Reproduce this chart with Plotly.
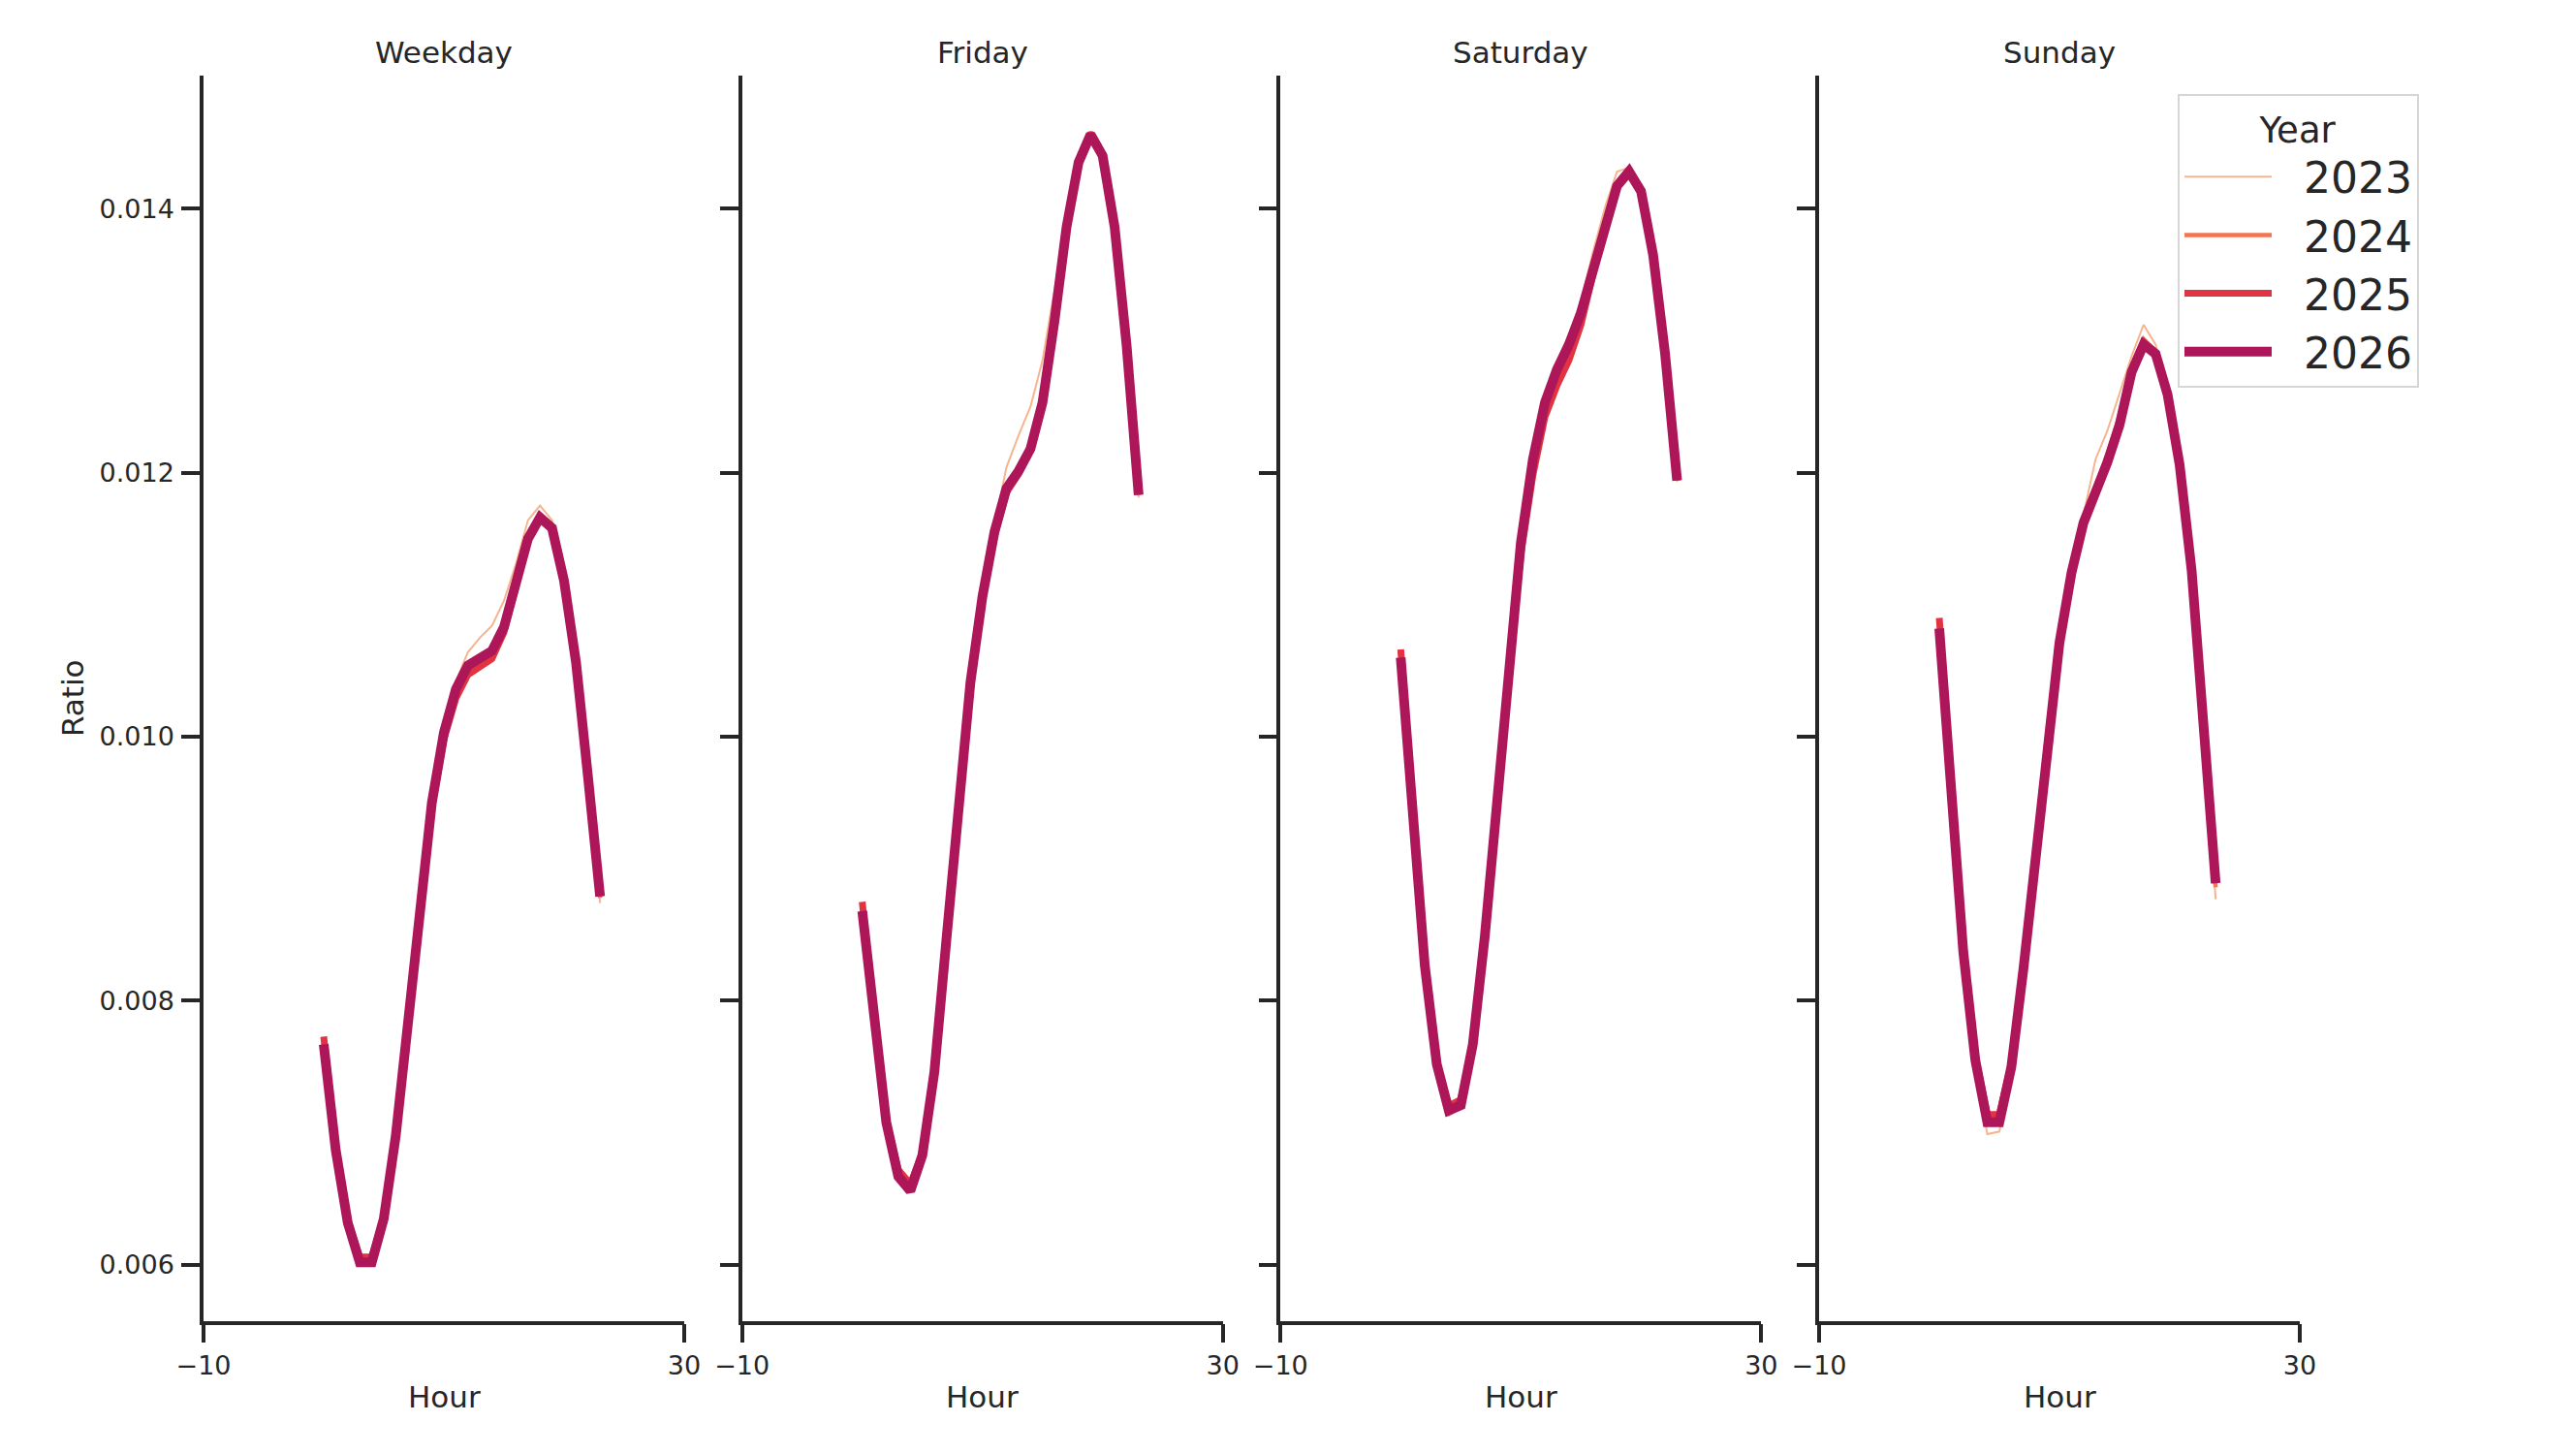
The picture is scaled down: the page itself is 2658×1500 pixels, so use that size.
import plotly.graph_objects as go
from plotly.subplots import make_subplots

# hour of day, one point per hour
hours = list(range(24))
days = ["Weekday", "Friday", "Saturday", "Sunday"]
years = ["2023", "2024", "2025", "2026"]

weekday_2023 = [0.00768, 0.00687, 0.00632, 0.00603, 0.00603, 0.00635, 0.00699, 0.00786, 0.00872, 0.00952, 0.01006, 0.01042,
                0.01064, 0.01075, 0.01084, 0.01103, 0.01131, 0.01164, 0.01175, 0.01164, 0.01121, 0.01057, 0.00968, 0.00874]
weekday_2024 = [0.00772, 0.00689, 0.00633, 0.00605, 0.00605, 0.00636, 0.00698, 0.00784, 0.00869, 0.00947, 0.01000, 0.01032,
                0.01050, 0.01056, 0.01062, 0.01082, 0.01115, 0.01152, 0.01168, 0.01160, 0.01120, 0.01057, 0.00969, 0.00878]
weekday_2025 = [0.00773, 0.00690, 0.00634, 0.00606, 0.00606, 0.00636, 0.00697, 0.00783, 0.00868, 0.00946, 0.00998, 0.01029,
                0.01047, 0.01053, 0.01059, 0.01079, 0.01112, 0.01149, 0.01166, 0.01159, 0.01119, 0.01057, 0.00970, 0.00879]
weekday_2026 = [0.00767, 0.00687, 0.00632, 0.00602, 0.00602, 0.00635, 0.00698, 0.00785, 0.00871, 0.00950, 0.01003, 0.01036,
                0.01054, 0.01060, 0.01065, 0.01083, 0.01114, 0.01150, 0.01166, 0.01158, 0.01118, 0.01056, 0.00969, 0.00879]

friday_2023 = [0.00870, 0.00781, 0.00708, 0.00668, 0.00658, 0.00684, 0.00746, 0.00847, 0.00950, 0.01042, 0.01108, 0.01160,
               0.01204, 0.01228, 0.01250, 0.01285, 0.01340, 0.01392, 0.01437, 0.01457, 0.01440, 0.01385, 0.01295, 0.01181]
friday_2024 = [0.00874, 0.00783, 0.00711, 0.00673, 0.00663, 0.00686, 0.00747, 0.00847, 0.00949, 0.01041, 0.01105, 0.01154,
               0.01188, 0.01202, 0.01220, 0.01256, 0.01318, 0.01388, 0.01437, 0.01458, 0.01442, 0.01387, 0.01297, 0.01183]
friday_2025 = [0.00875, 0.00783, 0.00710, 0.00672, 0.00661, 0.00685, 0.00747, 0.00846, 0.00948, 0.01040, 0.01104, 0.01152,
               0.01185, 0.01199, 0.01217, 0.01253, 0.01316, 0.01387, 0.01436, 0.01457, 0.01441, 0.01386, 0.01296, 0.01184]
friday_2026 = [0.00868, 0.00781, 0.00708, 0.00667, 0.00656, 0.00683, 0.00746, 0.00846, 0.00949, 0.01041, 0.01106, 0.01155,
               0.01188, 0.01201, 0.01218, 0.01253, 0.01315, 0.01386, 0.01435, 0.01456, 0.01440, 0.01386, 0.01296, 0.01183]

saturday_2023 = [0.01062, 0.00943, 0.00826, 0.00750, 0.00713, 0.00719, 0.00766, 0.00850, 0.00957, 0.01060, 0.01150, 0.01214,
                 0.01258, 0.01284, 0.01305, 0.01330, 0.01367, 0.01401, 0.01428, 0.01431, 0.01413, 0.01364, 0.01288, 0.01193]
saturday_2024 = [0.01065, 0.00945, 0.00828, 0.00754, 0.00722, 0.00726, 0.00768, 0.00849, 0.00953, 0.01053, 0.01142, 0.01204,
                 0.01247, 0.01272, 0.01292, 0.01318, 0.01353, 0.01389, 0.01418, 0.01429, 0.01414, 0.01365, 0.01290, 0.01194]
saturday_2025 = [0.01066, 0.00945, 0.00828, 0.00753, 0.00720, 0.00725, 0.00768, 0.00848, 0.00951, 0.01050, 0.01138, 0.01198,
                 0.01242, 0.01266, 0.01285, 0.01312, 0.01350, 0.01387, 0.01416, 0.01428, 0.01413, 0.01364, 0.01289, 0.01194]
saturday_2026 = [0.01060, 0.00943, 0.00827, 0.00752, 0.00717, 0.00721, 0.00767, 0.00849, 0.00955, 0.01057, 0.01147, 0.01210,
                 0.01253, 0.01278, 0.01297, 0.01321, 0.01355, 0.01389, 0.01417, 0.01428, 0.01413, 0.01365, 0.01290, 0.01194]

sunday_2023 = [0.01085, 0.00960, 0.00836, 0.00751, 0.00699, 0.00701, 0.00748, 0.00826, 0.00914, 0.00999, 0.01076, 0.01131,
               0.01168, 0.01210, 0.01232, 0.01260, 0.01288, 0.01312, 0.01297, 0.01262, 0.01206, 0.01124, 0.01004, 0.00877]
sunday_2024 = [0.01087, 0.00962, 0.00839, 0.00757, 0.00711, 0.00711, 0.00752, 0.00826, 0.00912, 0.00996, 0.01072, 0.01126,
               0.01165, 0.01190, 0.01214, 0.01243, 0.01281, 0.01301, 0.01292, 0.01260, 0.01205, 0.01125, 0.01006, 0.00886]
sunday_2025 = [0.01090, 0.00963, 0.00840, 0.00758, 0.00714, 0.00714, 0.00753, 0.00826, 0.00912, 0.00995, 0.01070, 0.01123,
               0.01161, 0.01185, 0.01209, 0.01238, 0.01278, 0.01299, 0.01291, 0.01259, 0.01205, 0.01125, 0.01007, 0.00889]
sunday_2026 = [0.01082, 0.00959, 0.00837, 0.00755, 0.00708, 0.00708, 0.00750, 0.00824, 0.00911, 0.00995, 0.01071, 0.01124,
               0.01162, 0.01185, 0.01208, 0.01236, 0.01276, 0.01297, 0.01290, 0.01259, 0.01206, 0.01126, 0.01008, 0.00889]

y_ticks = [0.006, 0.008, 0.010, 0.012, 0.014]
x_ticks = [-10, 30]

series = {
    "Weekday": [weekday_2023, weekday_2024, weekday_2025, weekday_2026],
    "Friday": [friday_2023, friday_2024, friday_2025, friday_2026],
    "Saturday": [saturday_2023, saturday_2024, saturday_2025, saturday_2026],
    "Sunday": [sunday_2023, sunday_2024, sunday_2025, sunday_2026],
}

# rocket palette, light to dark, thicker line for later years
colors = ["#f6b48f", "#f37651", "#e13342", "#ad1759"]
widths = [2, 4.5, 7, 10]
ink = "#262626"

# page body has an 8px margin: shrink the figure so the page is exactly 2658x1500
OFF = 8
W, H = 2658 - 2 * OFF, 1500 - 2 * OFF


def px_x(x):
    return (x - OFF) / W


def px_y(y):
    return 1 - (y - OFF) / H


fig = make_subplots(rows=1, cols=4, shared_yaxes=True)

for c, day in enumerate(days):
    for i, yr in enumerate(years):
        fig.add_trace(go.Scatter(x=hours, y=series[day][i], mode="lines",
                                 name="\u00a0\u00a0" + yr,
                                 legendgroup=yr, showlegend=(c == 0),
                                 line=dict(color=colors[i], width=widths[i])),
                      row=1, col=c + 1)

# panel edges in pixels of the target picture
panel_px = [(210, 706), (765.7, 1261.7), (1321.3, 1817.3), (1877, 2373)]
x_domains = [[px_x(a), px_x(b)] for a, b in panel_px]
y_domain = [px_y(1362.7), px_y(77.5)]

for c in range(4):
    fig.update_xaxes(domain=x_domains[c], range=[-10, 30], tickvals=x_ticks,
                     ticks="outside", ticklen=19, tickwidth=3.5, tickcolor=ink,
                     showline=True, linewidth=3.5, linecolor=ink,
                     showgrid=False, zeroline=False, automargin=False,
                     tickfont=dict(size=27, color=ink), row=1, col=c + 1)
    fig.update_yaxes(domain=y_domain, range=[0.005576, 0.01501], tickvals=y_ticks,
                     tickformat=".3f", ticks="outside", ticklen=19, tickwidth=3.5,
                     tickcolor=ink, showline=True, linewidth=3.5, linecolor=ink,
                     showgrid=False, zeroline=False, automargin=False,
                     showticklabels=(c == 0), ticklabelstandoff=2,
                     tickfont=dict(size=27, color=ink), row=1, col=c + 1)

# titles over each panel and "Hour" under each one
for c, day in enumerate(days):
    xc = (x_domains[c][0] + x_domains[c][1]) / 2
    fig.add_annotation(x=xc, y=px_y(54), xref="paper", yref="paper", text=day,
                       xanchor="center", yanchor="middle",
                       showarrow=False, font=dict(size=31, color=ink))
    fig.add_annotation(x=xc, y=px_y(1441), xref="paper", yref="paper", text="Hour",
                       xanchor="center", yanchor="middle",
                       showarrow=False, font=dict(size=31, color=ink))

fig.add_annotation(x=px_x(75), y=px_y(720), xref="paper", yref="paper", text="Ratio",
                   xanchor="center", yanchor="middle",
                   textangle=-90, showarrow=False, font=dict(size=31, color=ink))

fig.update_layout(width=W, height=H,
                  margin=dict(l=0, r=0, t=0, b=0),
                  plot_bgcolor="white", paper_bgcolor="white",
                  font=dict(family="DejaVu Sans", color=ink),
                  legend=dict(x=px_x(2247), y=px_y(97), xanchor="left", yanchor="top",
                              bgcolor="white", bordercolor="#d6d6d6", borderwidth=2,
                              tracegroupgap=0, itemwidth=90,
                              font=dict(size=44, color=ink),
                              title=dict(text="Year", side="top center",
                                         font=dict(size=37, color=ink))))

fig.write_html("out.html")
